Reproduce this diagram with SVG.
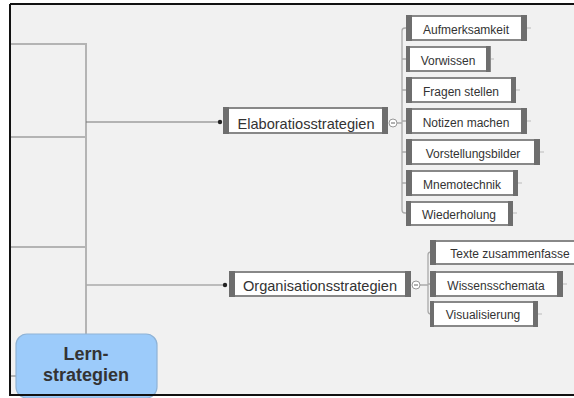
<svg xmlns="http://www.w3.org/2000/svg" width="574" height="398" viewBox="0 0 574 398">
<style>
.t{font-family:"Liberation Sans",Arial,sans-serif;fill:#333;text-anchor:middle}
.c{font-size:12px}
.m{font-size:14.6px}
.box{fill:#fff;stroke:#888;stroke-width:2}
.bar{fill:#6e6e6e}
.lg{stroke:#b4b4b4;stroke-width:2;fill:none}
.ln{stroke:#aaa;stroke-width:1.3;fill:none}
.dk{stroke:#777;stroke-width:1.2;fill:none}
.tick{stroke:#bbb;stroke-width:1}
.col{fill:#fff;stroke:#999;stroke-width:1}
</style>
<rect x="0" y="0" width="574" height="398" fill="#fff"/>
<rect x="10" y="4" width="564" height="392" fill="#f1f1f1"/>
<g id="connectors">
<path class="lg" d="M11 44H86V334M11 137H86M11 247H86M11 376H16"/>
<path class="dk" d="M86 122H220"/>
<circle cx="220" cy="122" r="2.2" fill="#222"/>
<path class="ln" d="M86 285H225"/>
<circle cx="225" cy="285" r="2.2" fill="#222"/>
<path class="ln" d="M397 123H402M406 28H405Q402 28 402 31V210Q402 213 405 213H406M402 59H406M402 90H406M402 121H406M402 152H406M402 183H406"/>
<path class="ln" d="M420 285H428M430 252H431Q428 252 428 255V311Q428 314 431 314H430M428 284H430"/>
<g class="tick">
<path d="M527 28H531M490 59H494M516 90H520M527 121H531M540 152H544M518 183H522M513 213H517M563 284H567M538 314H542"/>
</g>
</g>
<g id="lern">
<rect x="16" y="334" width="141" height="64" rx="11" fill="#9ccbfa" stroke="#8fb3d6" stroke-width="1.2"/>
<text class="t" x="86" y="360" style="font-size:18px;font-weight:bold">Lern-</text>
<text class="t" x="86" y="381" style="font-size:18px;font-weight:bold">strategien</text>
</g>
<g id="elaboration">
<rect class="box" x="224" y="108" width="163" height="25"/>
<rect class="bar" x="223" y="107" width="6" height="27"/>
<rect class="bar" x="382" y="107" width="6" height="27"/>
<text class="t m" x="306" y="129">Elaboratiosstrategien</text>
<circle class="col" cx="393" cy="123" r="4"/>
<path d="M391 123H395" stroke="#666" stroke-width="1"/>
</g>
<g id="aufmerksamkeit">
<rect class="box" x="407" y="16" width="119" height="24"/>
<rect class="bar" x="406" y="15" width="6" height="26"/>
<rect class="bar" x="521" y="15" width="6" height="26"/>
<text class="t c" x="466" y="34">Aufmerksamkeit</text>
</g>
<g id="vorwissen">
<rect class="box" x="407" y="47" width="83" height="24"/>
<rect class="bar" x="406" y="46" width="4" height="26"/>
<rect class="bar" x="486" y="46" width="4" height="26"/>
<text class="t c" x="448" y="65">Vorwissen</text>
</g>
<g id="fragen">
<rect class="box" x="407" y="78" width="108" height="24"/>
<rect class="bar" x="406" y="77" width="6" height="26"/>
<rect class="bar" x="511" y="77" width="5" height="26"/>
<text class="t c" x="461" y="96">Fragen stellen</text>
</g>
<g id="notizen">
<rect class="box" x="407" y="109" width="119" height="24"/>
<rect class="bar" x="406" y="108" width="6" height="26"/>
<rect class="bar" x="521" y="108" width="6" height="26"/>
<text class="t c" x="466" y="127">Notizen machen</text>
</g>
<g id="vorstellungsbilder">
<rect class="box" x="407" y="140" width="132" height="24"/>
<rect class="bar" x="406" y="139" width="6" height="26"/>
<rect class="bar" x="534" y="139" width="6" height="26"/>
<text class="t c" x="473" y="158">Vorstellungsbilder</text>
</g>
<g id="mnemotechnik">
<rect class="box" x="407" y="171" width="110" height="24"/>
<rect class="bar" x="406" y="170" width="6" height="26"/>
<rect class="bar" x="513" y="170" width="5" height="26"/>
<text class="t c" x="462" y="189">Mnemotechnik</text>
</g>
<g id="wiederholung">
<rect class="box" x="407" y="202" width="105" height="23"/>
<rect class="bar" x="406" y="201" width="5" height="25"/>
<rect class="bar" x="508" y="201" width="5" height="25"/>
<text class="t c" x="459" y="219">Wiederholung</text>
</g>
<g id="organisation">
<rect class="box" x="230" y="272" width="180" height="24"/>
<rect class="bar" x="229" y="271" width="6" height="26"/>
<rect class="bar" x="405" y="271" width="6" height="26"/>
<text class="t m" x="320" y="291">Organisationsstrategien</text>
<circle class="col" cx="416" cy="285" r="4"/>
<path d="M414 285H418" stroke="#666" stroke-width="1"/>
</g>
<g id="texte">
<rect class="box" x="431" y="241" width="145" height="23"/>
<rect class="bar" x="430" y="240" width="6" height="25"/>
<text class="t c" x="510" y="258">Texte zusammenfasse</text>
</g>
<g id="wissensschemata">
<rect class="box" x="431" y="272" width="131" height="24"/>
<rect class="bar" x="430" y="271" width="6" height="26"/>
<rect class="bar" x="557" y="271" width="6" height="26"/>
<text class="t c" x="496" y="290">Wissensschemata</text>
</g>
<g id="visualisierung">
<rect class="box" x="431" y="302" width="106" height="24"/>
<rect class="bar" x="430" y="301" width="4" height="26"/>
<rect class="bar" x="533" y="301" width="5" height="26"/>
<text class="t c" x="483" y="319">Visualisierung</text>
</g>
<path d="M10 4H574M10 4V396M10 395H574" stroke="#111" stroke-width="2" fill="none"/>
</svg>
